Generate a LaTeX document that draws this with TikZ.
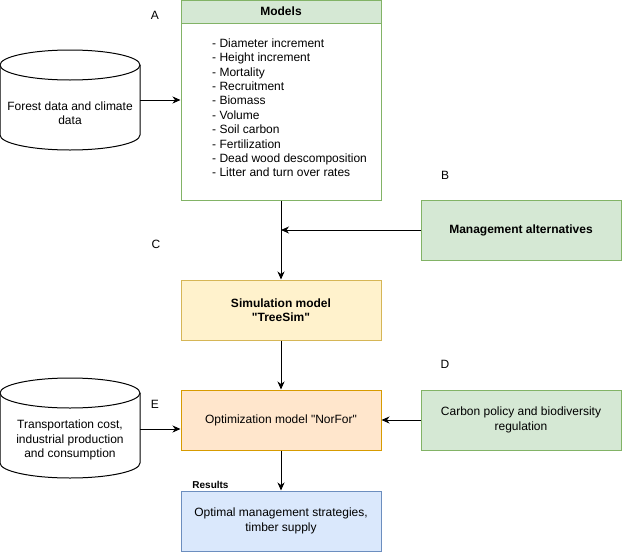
\documentclass[tikz,border=0pt]{standalone}
\usepackage{fontspec}
\setmainfont{Liberation Sans}
\usepackage{tikz}
\usetikzlibrary{arrows.meta, positioning, calc}
\definecolor{greenfill}{HTML}{D5E8D4}
\definecolor{greenline}{HTML}{82B366}
\definecolor{yellowfill}{HTML}{FFF2CC}
\definecolor{yellowline}{HTML}{D6B656}
\definecolor{orangefill}{HTML}{FFE6CC}
\definecolor{orangeline}{HTML}{D79B00}
\definecolor{bluefill}{HTML}{DAE8FC}
\definecolor{blueline}{HTML}{6C8EBF}
\tikzstyle{box} = [rectangle, minimum width = 200pt, minimum height = 60pt, text centered, align = center, inner sep = 0pt, line width = 1pt, font = \fontsize{12}{14.4}\selectfont]
\tikzstyle{boldbox} = [box, font = \fontsize{12}{14.4}\selectfont\bfseries]
\tikzstyle{storetext} = [align = center, inner sep = 0pt, font = \fontsize{12}{14.4}\selectfont]
\tikzstyle{cyl} = [draw = black, fill = white, line width = 1pt]
\tikzstyle{letter} = [inner sep = 0pt, font = \fontsize{12}{14.4}\selectfont]

\begin{document}
\begin{tikzpicture}[x=1pt, y=1pt, >={Stealth[length=8pt, width=7pt, inset=2.5pt]}]

\fill[white] (0,0) rectangle (622,-552);
\useasboundingbox (0,0) rectangle (622,-552);

% Models
\node[box, draw = greenline, fill = white, minimum height = 200pt] (models) at (281,-100) {};
\node[boldbox, draw = greenline, fill = greenfill, minimum height = 23pt, anchor = north] (modelshead) at (models.north) {Models};
\node[storetext, align = left, anchor = north west] (modellist) at (212,-38.5) {- Diameter increment\\- Height increment\\- Mortality\\- Recruitment\\- Biomass\\- Volume\\- Soil carbon\\- Fertilization\\- Dead wood descomposition\\- Litter and turn over rates};

% Forest data store
\draw[cyl] (0,-65) -- (0,-135) arc[start angle=180, end angle=360, x radius=70, y radius=15] -- (140,-65);
\draw[cyl] (70,-65) ellipse[x radius=70, y radius=15];
\node[storetext] (forest) at (70,-113) {Forest data and climate\\data};
\coordinate (forestout) at (140,-100);
\draw[->, line width = 1pt] (forestout) -- (forestout -| models.west);

% Management alternatives and simulation
\node[boldbox, draw = greenline, fill = greenfill] (mgmt) at (521,-230) {Management alternatives};
\node[boldbox, draw = yellowline, fill = yellowfill] (sim) at (281,-310) {Simulation model\\\textquotedbl TreeSim\textquotedbl};
\coordinate (join) at (models.south |- mgmt.west);
\draw[->, line width = 1pt] (models.south) -- (sim.north);
\draw[->, line width = 1pt] (mgmt.west) -- (join);

% Optimization
\node[box, draw = orangeline, fill = orangefill] (opt) at (281,-420) {Optimization model \textquotedbl NorFor\textquotedbl};
\node[box, draw = greenline, fill = greenfill] (carbon) at (521,-420) {Carbon policy and biodiversity\\regulation};
\node[box, draw = blueline, fill = bluefill] (results) at (281,-521) {Optimal management strategies,\\timber supply};
\draw[->, line width = 1pt] (sim.south) -- (opt.north);
\draw[->, line width = 1pt] (carbon.west) -- (opt.east);
\draw[->, line width = 1pt] (opt.south) -- (results.north);
\node[letter, font = \fontsize{10}{12}\selectfont\bfseries] (resultslbl) at (210.5,-485) {Results};

% Transportation store
\draw[cyl] (0,-393) -- (0,-463) arc[start angle=180, end angle=360, x radius=70, y radius=15] -- (140,-393);
\draw[cyl] (70,-393) ellipse[x radius=70, y radius=15];
\node[storetext] (transport) at (70,-440) {Transportation cost,\\industrial production\\and consumption};
\coordinate (transportout) at (140,-429);
\draw[->, line width = 1pt] (transportout) -- (transportout -| opt.west);

% Letters
\node[letter] (la) at (155,-15) {A};
\node[letter] (lb) at (445,-175) {B};
\node[letter] (lc) at (156,-244) {C};
\node[letter] (ld) at (445,-364) {D};
\node[letter] (le) at (155,-404) {E};

\end{tikzpicture}
\end{document}
